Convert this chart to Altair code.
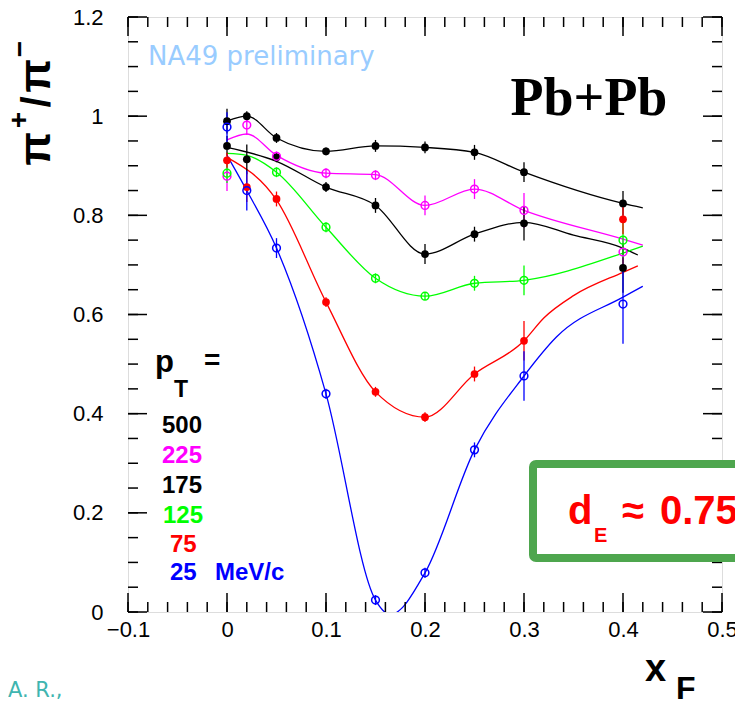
import altair as alt
import pandas as pd

# ---------------- data ----------------
series = ["500", "225", "175", "125", "75", "25"]
colors = ["#000000", "#ff00ff", "#000000", "#00ff00", "#ff0000", "#0000ff"]
filled_series = ["500", "175", "75"]
open_series = ["225", "125", "25"]

xf = [0, 0.02, 0.05, 0.1, 0.15, 0.2, 0.25, 0.3, 0.4]
xf_125 = [0, 0.05, 0.1, 0.15, 0.2, 0.25, 0.3, 0.4]

ratio_500 = [0.990, 1.000, 0.956, 0.929, 0.940, 0.937, 0.927, 0.887, 0.824]
err_500 = [0.025, 0.010, 0.010, 0.008, 0.012, 0.012, 0.015, 0.020, 0.025]
ratio_225 = [0.879, 0.982, 0.919, 0.885, 0.881, 0.820, 0.853, 0.810, 0.726]
err_225 = [0.030, 0.020, 0.010, 0.010, 0.010, 0.020, 0.020, 0.035, 0.030]
ratio_175 = [0.940, 0.913, 0.917, 0.857, 0.820, 0.722, 0.762, 0.784, 0.694]
err_175 = [0.020, 0.030, 0.010, 0.010, 0.015, 0.020, 0.015, 0.035, 0.050]
ratio_125 = [0.885, 0.887, 0.776, 0.673, 0.637, 0.663, 0.669, 0.750]
err_125 = [0.020, 0.010, 0.010, 0.010, 0.008, 0.015, 0.030, 0.035]
ratio_75 = [0.911, 0.857, 0.833, 0.625, 0.444, 0.393, 0.480, 0.547, 0.792]
err_75 = [0.015, 0.030, 0.015, 0.010, 0.010, 0.010, 0.015, 0.040, 0.030]
ratio_25 = [0.978, 0.850, 0.734, 0.440, 0.024, 0.079, 0.327, 0.476, 0.621]
err_25 = [0.030, 0.040, 0.020, 0.010, 0.010, 0.010, 0.015, 0.050, 0.080]

# fitted curves (nodes)
cx_500 = [0, 0.02, 0.05, 0.1, 0.15, 0.2, 0.25, 0.3, 0.4, 0.42]
cy_500 = [0.990, 1.000, 0.956, 0.929, 0.940, 0.937, 0.927, 0.887, 0.824, 0.815]
cx_225 = [0, 0.02, 0.05, 0.1, 0.15, 0.2, 0.25, 0.3, 0.4, 0.42]
cy_225 = [0.952, 0.964, 0.921, 0.885, 0.882, 0.820, 0.853, 0.810, 0.752, 0.740]
cx_175 = [0, 0.05, 0.1, 0.15, 0.2, 0.25, 0.3, 0.35, 0.4, 0.415]
cy_175 = [0.937, 0.909, 0.857, 0.820, 0.722, 0.762, 0.786, 0.760, 0.734, 0.720]
cx_125 = [0, 0.02, 0.05, 0.1, 0.15, 0.2, 0.25, 0.3, 0.4, 0.42]
cy_125 = [0.925, 0.921, 0.887, 0.776, 0.673, 0.637, 0.663, 0.669, 0.724, 0.738]
cx_75 = [0, 0.05, 0.1, 0.15, 0.2, 0.25, 0.3, 0.32, 0.35, 0.4, 0.415]
cy_75 = [0.917, 0.831, 0.625, 0.444, 0.393, 0.480, 0.547, 0.593, 0.638, 0.685, 0.698]
cx_25 = [0, 0.02, 0.05, 0.1, 0.15, 0.165, 0.2, 0.25, 0.3, 0.333, 0.4, 0.42]
cy_25 = [0.921, 0.850, 0.734, 0.440, 0.024, -0.005, 0.079, 0.327, 0.476, 0.555, 0.635, 0.657]

x_major = [-0.1, 0, 0.1, 0.2, 0.3, 0.4, 0.5]
x_minor = [round(-0.1 + 0.02 * i, 2) for i in range(31)]
y_major = [0, 0.2, 0.4, 0.6, 0.8, 1.0, 1.2]
y_minor = [round(0.05 * i, 2) for i in range(25)]

legend_labels = ["500", "225", "175", "125", "75", "25"]
unit_label = "MeV/c"
watermark = "NA49 preliminary"
system_label = "Pb+Pb"
author_label = "A. R.,"

# ---------------- tables ----------------
pts = {
    "500": (xf, ratio_500, err_500),
    "225": (xf, ratio_225, err_225),
    "175": (xf, ratio_175, err_175),
    "125": (xf_125, ratio_125, err_125),
    "75": (xf, ratio_75, err_75),
    "25": (xf, ratio_25, err_25),
}
rows = []
for s, (xs, ys, es) in pts.items():
    for x, y, e in zip(xs, ys, es):
        rows.append({"series": s, "x": x, "y": y, "lo": y - e, "hi": y + e})
points = pd.DataFrame(rows)

crv = {
    "500": (cx_500, cy_500), "225": (cx_225, cy_225), "175": (cx_175, cy_175),
    "125": (cx_125, cy_125), "75": (cx_75, cy_75), "25": (cx_25, cy_25),
}
crow = []
for s, (xs, ys) in crv.items():
    for i, (x, y) in enumerate(zip(xs, ys)):
        crow.append({"series": s, "x": x, "y": y, "i": i})
curves = pd.DataFrame(crow)

W, H = 594, 595
xscale = alt.Scale(domain=[-0.1, 0.5], nice=False, zero=False)
yscale = alt.Scale(domain=[0, 1.2], nice=False, zero=False)
cscale = alt.Scale(domain=series, range=colors)

xaxis = alt.Axis(values=x_major, format="~g", ticks=False, domain=False, grid=False,
                 labelPadding=7, title=None, labelFontSize=22, labelFlush=False)
yaxis = alt.Axis(values=y_major, format="~g", ticks=False, domain=False, grid=False,
                 labelPadding=25, title=None, labelFontSize=22, labelFlush=False)


def X(f):
    return alt.X(f, type="quantitative", scale=xscale, axis=xaxis)


def Y(f):
    return alt.Y(f, type="quantitative", scale=yscale, axis=yaxis)


color = alt.Color("series:N", scale=cscale, legend=None)

layers = []

# curves
layers.append(
    alt.Chart(curves).mark_line(interpolate="monotone", strokeWidth=1.3, clip=True)
    .encode(x=X("x"), y=Y("y"), color=color, detail="series:N", order="i:Q")
)
# error bars
layers.append(
    alt.Chart(points).mark_rule(strokeWidth=1.3).encode(x=X("x"), y=Y("lo"), y2="hi", color=color)
)
# filled markers
layers.append(
    alt.Chart(points).transform_filter(alt.FieldOneOfPredicate(field="series", oneOf=filled_series))
    .mark_circle(size=60, opacity=1).encode(x=X("x"), y=Y("y"), color=color)
)
# open markers
layers.append(
    alt.Chart(points).transform_filter(alt.FieldOneOfPredicate(field="series", oneOf=open_series))
    .mark_point(size=60, filled=False, strokeWidth=1.5, opacity=1).encode(x=X("x"), y=Y("y"), color=color)
)

# inward ticks on all four sides
xmaj = pd.DataFrame({"v": x_major})
xmin = pd.DataFrame({"v": x_minor})
ymaj = pd.DataFrame({"v": y_major})
ymin = pd.DataFrame({"v": y_minor})
for df, L in ((xmaj, 19), (xmin, 10)):
    layers.append(alt.Chart(df).mark_rule(color="black", strokeWidth=1.5)
                  .encode(x=X("v"), y=alt.value(H), y2=alt.value(H - L)))
    layers.append(alt.Chart(df).mark_rule(color="black", strokeWidth=1.5)
                  .encode(x=X("v"), y=alt.value(0), y2=alt.value(L)))
for df, L in ((ymaj, 19), (ymin, 10)):
    layers.append(alt.Chart(df).mark_rule(color="black", strokeWidth=1.5)
                  .encode(y=Y("v"), x=alt.value(0), x2=alt.value(L)))
    layers.append(alt.Chart(df).mark_rule(color="black", strokeWidth=1.5)
                  .encode(y=Y("v"), x=alt.value(W), x2=alt.value(W - L)))


def txt(text, px, py, size, color="black", weight="normal", font="Liberation Sans",
        angle=0, align="left", baseline="alphabetic"):
    return alt.Chart(alt.Data(values=[{"t": text}])).mark_text(
        text=text, fontSize=size, color=color, fontWeight=weight, font=font,
        angle=angle, align=align, baseline=baseline,
    ).encode(x=alt.value(px), y=alt.value(py))


# green box
layers.append(
    alt.Chart(alt.Data(values=[{"a": 1}])).mark_rect(
        fill="white", stroke="#4ea64e", strokeWidth=8, cornerRadius=3
    ).encode(x=alt.value(405), x2=alt.value(660), y=alt.value(447), y2=alt.value(541))
)
layers.append(txt("d", 440, 507, 40, "#ff0000", "bold"))
layers.append(txt("E", 466, 525, 20, "#ff0000", "bold"))
layers.append(txt("\u2248", 494, 507, 40, "#ff0000", "bold"))
layers.append(txt("0.75", 532, 507, 40, "#ff0000", "bold"))

# texts
layers.append(txt(watermark, 20, 48, 26, "#99ccff", font="DejaVu Sans"))
layers.append(txt(system_label, 461, 98, 54, "black", "bold", font="Liberation Serif", align="center"))

# legend
layers.append(txt("p", 27, 355, 31, "black", "bold"))
layers.append(txt("T", 46, 380, 23, "black", "bold"))
layers.append(txt("=", 76, 352, 28, "black", "bold"))
leg_x = [34, 34, 34, 35, 42, 42]
leg_y = [416, 446, 476, 506, 535, 563]
for lab, c, lx, ly in zip(legend_labels, colors, leg_x, leg_y):
    layers.append(txt(lab, lx, ly, 24, c, "bold"))
layers.append(txt(unit_label, 87, 563, 24, "#0000ff", "bold"))

# y-axis title  pi+/pi-
layers.append(txt("\u03c0", -78, 132, 44, "black", "bold", angle=270, align="center"))
layers.append(txt("+", -108, 103, 28, "black", "bold", angle=270, align="center", baseline="middle"))
layers.append(txt("/", -78, 85, 40, "black", "bold", angle=270, align="center"))
layers.append(txt("\u03c0", -78, 59, 44, "black", "bold", angle=270, align="center"))
layers.append(txt("\u2212", -107, 32, 28, "black", "bold", angle=270, align="center", baseline="middle"))

# x-axis title x_F
layers.append(txt("x", 517, 664, 38, "black", "bold"))
layers.append(txt("F", 548, 682, 32, "black", "bold"))

# author
layers.append(txt(author_label, -120, 680, 21, "#3fb5b0", font="DejaVu Sans"))

chart = alt.layer(*layers).properties(
    width=W, height=H,
    padding={"left": 120, "top": 9, "right": 13, "bottom": 88},
    autosize=alt.AutoSizeParams(type="none"),
).configure_view(stroke="black", strokeWidth=2.5).configure_axis(
    labelFont="Liberation Sans", labelColor="black"
).configure(background="white")

chart.save("out.html", embed_options={"renderer": "svg", "actions": False})
